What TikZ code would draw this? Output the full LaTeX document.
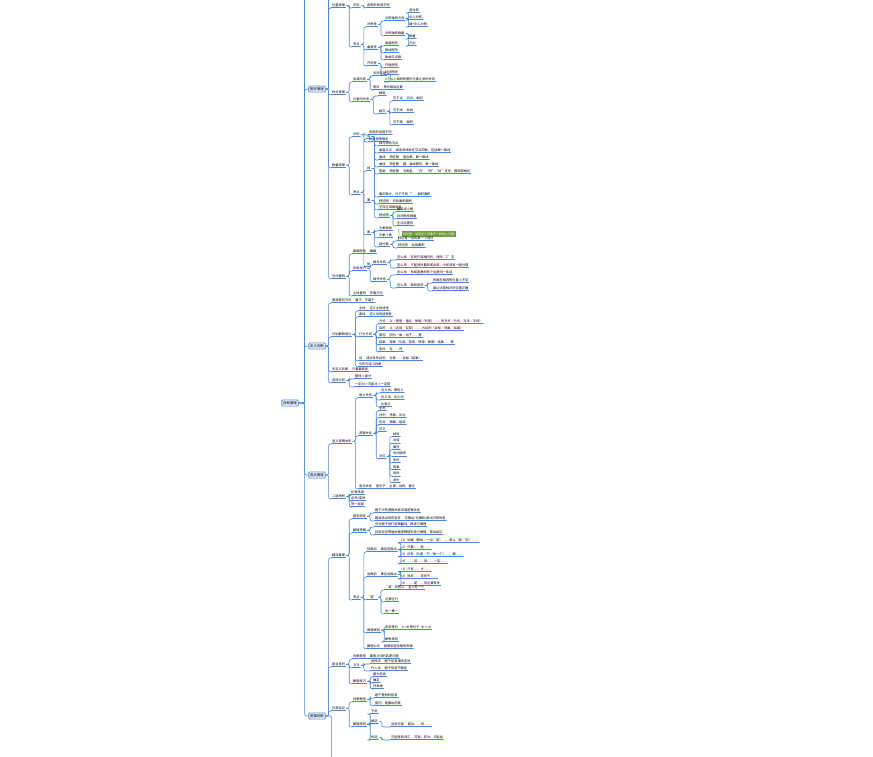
\documentclass[tikz,border=0pt]{standalone}
\usepackage{fontspec}
\setmainfont{Noto Sans CJK SC}
\definecolor{bl}{HTML}{4A86D8}
\definecolor{bx}{HTML}{DCE8F8}
\definecolor{gr}{HTML}{6E9E3C}
\tikzset{
  top/.style={draw=bl,fill=bx,rounded corners=1pt,font=\fontsize{3.4}{3.8}\selectfont,inner sep=1.5pt,line width=.6pt},
  lf/.style={font=\fontsize{3.2}{3.6}\selectfont,inner sep=1pt,anchor=south west,path picture={\draw[bl,line width=.9pt] (path picture bounding box.south west)--(path picture bounding box.south east);}},
  br/.style={draw=bl,line width=.6pt,rounded corners=2pt},
}
\newcommand{\tie}[2]{\draw[br] (#1.east) -- ++(3,0) |- (#2.south west);}
\begin{document}
\begin{tikzpicture}[x=1pt,y=-1pt]
\useasboundingbox (0,0) rectangle (873,757);
% root and main branches
\node[top] (rt) at (290,403) {判断推理};
\node[top] (tx) at (317,89) {图形推理};
\node[top] (dy) at (317,346) {定义判断};
\node[top] (lb) at (317,475) {类比推理};
\node[top] (lj) at (317,716) {逻辑判断};
\foreach \n in {tx,dy,lb,lj} {\draw[br] (rt.east) -- ++(6,0) |- (\n.west);}
\draw[br] (rt.east) ++(6,0) -- ++(0,-410);
\draw[br] (lj.east) -- ++(6,0) -- ++(0,50);
% 图形推理
\node[lf] (t1) at (331,8) {位置规律};
\node[lf] (t2) at (331,95) {样式规律};
\node[lf] (t3) at (331,168) {数量规律};
\node[lf] (t4) at (331,279) {空间重构};
\foreach \n in {t1,t2,t3,t4} {\tie{tx}{\n}}
\draw[br] (tx.east) ++(3,0) -- ++(0,-95);
\node[lf] (t11) at (352,8) {识别};
\node[lf] (t12) at (352,47) {考点};
\tie{t1}{t11} \tie{t1}{t12}
\node[lf] (t111) at (366,8) {各图形构成不同};
\tie{t11}{t111}
\node[lf] (t121) at (366,27) {对称性};
\node[lf] (t122) at (366,50) {曲直性};
\node[lf] (t123) at (366,66) {开闭性};
\foreach \n in {t121,t122,t123} {\tie{t12}{\n}}
\node[lf] (a1) at (384,21) {对称轴的方向};
\node[lf] (a2) at (384,36) {对称轴的数量};
\tie{t121}{a1} \tie{t121}{a2}
\foreach \t [count=\i] in {竖对称,中心对称,轴+中心对称} {\node[lf] (b\i) at (408,6+7*\i) {\t}; \tie{a1}{b\i}}
\foreach \t [count=\i] in {数量,方向} {\node[lf] (c\i) at (408,32+7*\i) {\t}; \tie{a2}{c\i}}
\foreach \t [count=\i] in {曲直图形,数线图形,数曲交点数} {\node[lf] (d\i) at (384,39+7*\i) {\t}; \tie{t122}{d\i}}
\foreach \t [count=\i] in {开放图形,封闭图形} {\node[lf] (e\i) at (384,61+7*\i) {\t}; \tie{t123}{e\i}}
\node[lf] (t21) at (352,82) {加减同异};
\node[lf] (t22) at (352,102) {元素间关系};
\tie{t2}{t21} \tie{t2}{t22}
\node[lf] (f1) at (372,76) {去同存异};
\node[lf] (f2) at (384,82) {2个以上相同的图形元素之间的关系};
\node[lf] (f3) at (372,90) {黑白 \quad 黑白相加运算};
\tie{t21}{f1} \tie{t21}{f3} \tie{f1}{f2}
\node[lf] (g1) at (378,96) {相离};
\node[lf] (g2) at (378,114) {相交};
\tie{t22}{g1} \tie{t22}{g2}
\foreach \t [count=\i] in {交于点 \quad 切点、相切,交于线 \quad 共线,交于面 \quad 面积} {\node[lf] (h\i) at (392,89+12*\i) {\t}; \tie{g2}{h\i}}
\node[lf] (t31) at (352,137) {识别};
\node[lf] (t32) at (352,195) {考点};
\tie{t3}{t31} \tie{t3}{t32}
\node[lf] (k1) at (368,135) {各图形组成不同};
\node[lf] (k2) at (368,142) {数量规律明显};
\tie{t31}{k1} \tie{t31}{k2}
\foreach \t [count=\i] in {点,线,面,素,体} {\node[lf] (m\i) at (366,107+32*\i) {\t}; \tie{t32}{m\i}}
\node[lf] (n1) at (378,146) {线与线的交点};
\node[lf] (n2) at (378,153) {曲直交点 \quad 线条和线条在交点的数，包括数一致线};
\node[lf] (n3) at (378,160) {直线 \quad 特征图 \quad 直边数，数一致体};
\node[lf] (n4) at (378,167) {曲线 \quad 特征图 \quad 圆，曲线图形，数一致线};
\node[lf] (n5) at (378,174) {笔画 \quad 特征图 \quad 五角星、“日”“田”“目”变形，圆和圆相切};
\foreach \n in {n1,n2,n3,n4,n5} {\tie{m1}{\n}}
\node[lf] (p1) at (378,197) {面的数计，分子不同“”，面积面积};
\node[lf] (p2) at (378,204) {特征图 \quad 白色面积面积};
\tie{m2}{p1} \tie{m2}{p2}
\node[lf] (p3) at (378,210) {空白区域相同面};
\node[lf] (p4) at (378,218) {特征图};
\tie{m3}{p3} \tie{m3}{p4}
\foreach \t [count=\i] in {图形减少数,封闭图形数量,生活化图形} {\node[lf] (q\i) at (396,205+7*\i) {\t}; \tie{p4}{q\i}}
\node[lf] (r1) at (378,231) {元素种类};
\node[lf] (r2) at (378,238) {元素个数};
\node[lf] (r3) at (378,247) {部分数};
\tie{m4}{r1} \tie{m4}{r2} \tie{m4}{r3}
\node[draw=gr,fill=gr,text=white,font=\fontsize{3}{3.4}\selectfont,inner sep=1pt,anchor=west] (gg) at (402,234) {特征图：出现多个元素不一样的小元素};
\draw[gr,line width=.4pt] (398,229) to[bend left=20] (398,240);
\node[lf] (s1) at (397,241) {特征是一段的数一个部分};
\node[lf] (s2) at (397,248) {特征图 \quad 加减面积};
\tie{r3}{s1} \tie{r3}{s2}
\node[lf] (t41) at (352,254) {截面图形 \quad 横截};
\node[lf] (t42) at (352,271) {折纸技巧};
\node[lf] (t43) at (352,296) {立体重构 \quad 多面方向};
\tie{t4}{t41} \tie{t4}{t42} \tie{t4}{t43}
\node[lf] (u1) at (372,265) {相对关系};
\node[lf] (u2) at (372,282) {相邻关系};
\tie{t42}{u1} \tie{t42}{u2}
\node[lf] (v1) at (396,260) {怎么找 \quad 在同行或相间列，排除“Z”字};
\node[lf] (v2) at (396,268) {怎么用 \quad 不能同时看到或出现，中间须有一面分隔};
\node[lf] (v3) at (396,275) {怎么找 \quad 构成直角的两个边是同一条边};
\node[lf] (v4) at (396,288) {怎么用 \quad 面的排序};
\tie{u1}{v1} \tie{u1}{v2} \tie{u2}{v3} \tie{u2}{v4}
\node[lf] (w1) at (432,283) {的面在相同的位置上不变};
\node[lf] (w2) at (432,291) {画边法箭标识的位置正确};
\tie{v4}{w1} \tie{v4}{w2}
% 定义判断
\node[lf] (y1) at (331,303) {看清提问方式 \quad 属于，不属于};
\node[lf] (y2) at (331,337) {识别解释成分};
\node[lf] (y3) at (331,372) {多定义判断 \quad 只看最典型};
\node[lf] (y4) at (331,383) {选项比较};
\foreach \n in {y1,y2,y3,y4} {\tie{dy}{\n}}
\node[lf] (y21) at (358,311) {主体 \quad 定义主体适用};
\node[lf] (y22) at (358,317) {客体 \quad 定义中的接受者};
\node[lf] (y23) at (358,337) {行为方式};
\node[lf] (y24) at (358,361) {目 \quad 通过条件目的 \quad 为使……目标（结果）};
\node[lf] (y25) at (358,367) {引例与定义判断};
\foreach \n in {y21,y22,y23,y24,y25} {\tie{y2}{\n}}
\foreach \t [count=\i] in {方式 \quad 以（措施／通过／依据／利用）……的方式（方式／方法／手段）,目的 \quad 以（达到／实现）……为目的（目标／效果／结果）,原因 \quad 因为／由／出于……等,结果 \quad 导致（引起／造成／使得／致使）结果……等,条件 \quad 在……时} {\node[lf] (z\i) at (378,317+7*\i) {\t}; \tie{y23}{z\i}}
\node[lf] (y41) at (354,379) {整体＞部分};
\node[lf] (y42) at (354,387) {一定对＞可能对＞一定错};
\tie{y4}{y41} \tie{y4}{y42}
% 类比推理
\node[lf] (l1) at (331,444) {语义逻辑关系};
\node[lf] (l2) at (331,499) {二级辨析};
\tie{lb}{l1} \tie{lb}{l2}
\node[lf] (l11) at (358,398) {语义关系};
\node[lf] (l12) at (358,436) {逻辑关系};
\node[lf] (l13) at (358,489) {语法关系 \quad 造句子 \quad 主谓、动宾、偏正};
\tie{l1}{l11} \tie{l1}{l12} \tie{l1}{l13}
\foreach \t [count=\i] in {近义词、褒贬义,反义词、反义词,比喻义} {\node[lf] (o\i) at (380,386+7*\i) {\t}; \tie{l11}{o\i}}
\foreach \t [count=\i] in {全同,并列 \quad 矛盾、反对,包含 \quad 种属、组成,交叉} {\node[lf] (x\i) at (378,404+7*\i) {\t}; \tie{l12}{x\i}}
\node[lf] (x5) at (378,459) {对应};
\tie{l12}{x5}
\foreach \t [count=\i] in {材料,功能,属性,时间顺序,条件,因果,场所,身份} {\node[lf] (xx\i) at (392,430+6.6*\i) {\t}; \tie{x5}{xx\i}}
\foreach \t [count=\i] in {比喻来源,必然/或然,同一层级} {\node[lf] (j\i) at (350,489+6*\i) {\t}; \tie{l2}{j\i}}
% 逻辑判断
\node[lf] (q1) at (331,558) {翻译推理};
\node[lf] (q2) at (331,667) {组合排列};
\node[lf] (q3) at (331,711) {日常结论};
\tie{lj}{q1} \tie{lj}{q2} \tie{lj}{q3}
\node[lf] (q11) at (352,519) {题型特征};
\node[lf] (q12) at (352,533) {解题思路};
\node[lf] (q13) at (352,600) {考点};
\tie{q1}{q11} \tie{q1}{q12} \tie{q1}{q13}
\node[lf] (q111) at (374,513) {题干中有逻辑关联词或逻辑关系};
\node[lf] (q112) at (374,521) {题目给出的有条件 \quad 可推出/可推知/推出可知的是};
\node[lf] (q121) at (374,527) {先对题干进行逻辑翻译，再进行推理};
\node[lf] (q122) at (374,535) {利用逆否等值依据逻辑规则进行推理，得出结论};
\tie{q11}{q111} \tie{q11}{q112} \tie{q12}{q121} \tie{q12}{q122}
\node[lf] (k21) at (366,552) {前推后 \quad 满足前推出};
\node[lf] (k22) at (366,577) {后推前 \quad 满足后推出};
\node[lf] (k23) at (366,600) {“或”};
\node[lf] (k24) at (366,633) {推理规则};
\node[lf] (k25) at (366,649) {推理公式 \quad 直推和逆否推的规律};
\foreach \n in {k21,k22,k23,k24,k25} {\tie{q13}{\n}}
\foreach \t [count=\i] in {（1）如果（假如／一旦／若）……那么（就／则）……,（2）只要……就……,（3）所有（凡是／只／每一个）……都……,（4）……前……就……一定……} {\node[lf] (ka\i) at (398,536+7*\i) {\t}; \tie{k21}{ka\i}}
\foreach \t [count=\i] in {（1）只有……才……,（2）除非……否则不……,（3）……是……的必要条件} {\node[lf] (kb\i) at (398,565+7*\i) {\t}; \tie{k22}{kb\i}}
\node[lf] (kc1) at (384,590) {“或”的含义 \quad 至少有一个};
\node[lf] (kc2) at (384,602) {注意区分};
\node[lf] (kc3) at (384,614) {肯一推一};
\tie{k23}{kc1} \tie{k23}{kc2} \tie{k23}{kc3}
\node[lf] (kd1) at (384,630) {逆否等价 \quad A→B 等价于 ¬B→¬A};
\node[lf] (kd2) at (384,642) {摩根规则};
\tie{k24}{kd1} \tie{k24}{kd2}
\node[lf] (q21) at (352,659) {判断题型 \quad 要素之间的匹配问题};
\node[lf] (q22) at (352,668) {方法};
\node[lf] (q23) at (352,684) {解题技巧};
\tie{q2}{q21} \tie{q2}{q22} \tie{q2}{q23}
\node[lf] (q221) at (370,664) {排除法 \quad 题干信息排除选项};
\node[lf] (q222) at (370,671) {代入法 \quad 题干信息不确定};
\tie{q22}{q221} \tie{q22}{q222}
\foreach \t [count=\i] in {最大信息,确定,列表格} {\node[lf] (qt\i) at (372,671+6*\i) {\t}; \tie{q23}{qt\i}}
\node[lf] (q31) at (352,702) {判断题型};
\node[lf] (q32) at (352,727) {解题原则};
\tie{q3}{q31} \tie{q3}{q32}
\node[lf] (q311) at (374,698) {题干是材料信息};
\node[lf] (q312) at (374,706) {提问：能推出的是};
\tie{q31}{q311} \tie{q31}{q312}
\node[lf] (q321) at (370,714) {不说};
\node[lf] (q322) at (370,724) {慎选};
\node[lf] (q323) at (370,740) {优选};
\tie{q32}{q321} \tie{q32}{q322} \tie{q32}{q323}
\node[lf] (q3221) at (390,727) {出现可能 \quad 超出……的……};
\node[lf] (q3231) at (390,740) {可能性的词汇 \quad 可能、较为、可能会};
\tie{q322}{q3221} \tie{q323}{q3231}
\end{tikzpicture}
\end{document}
